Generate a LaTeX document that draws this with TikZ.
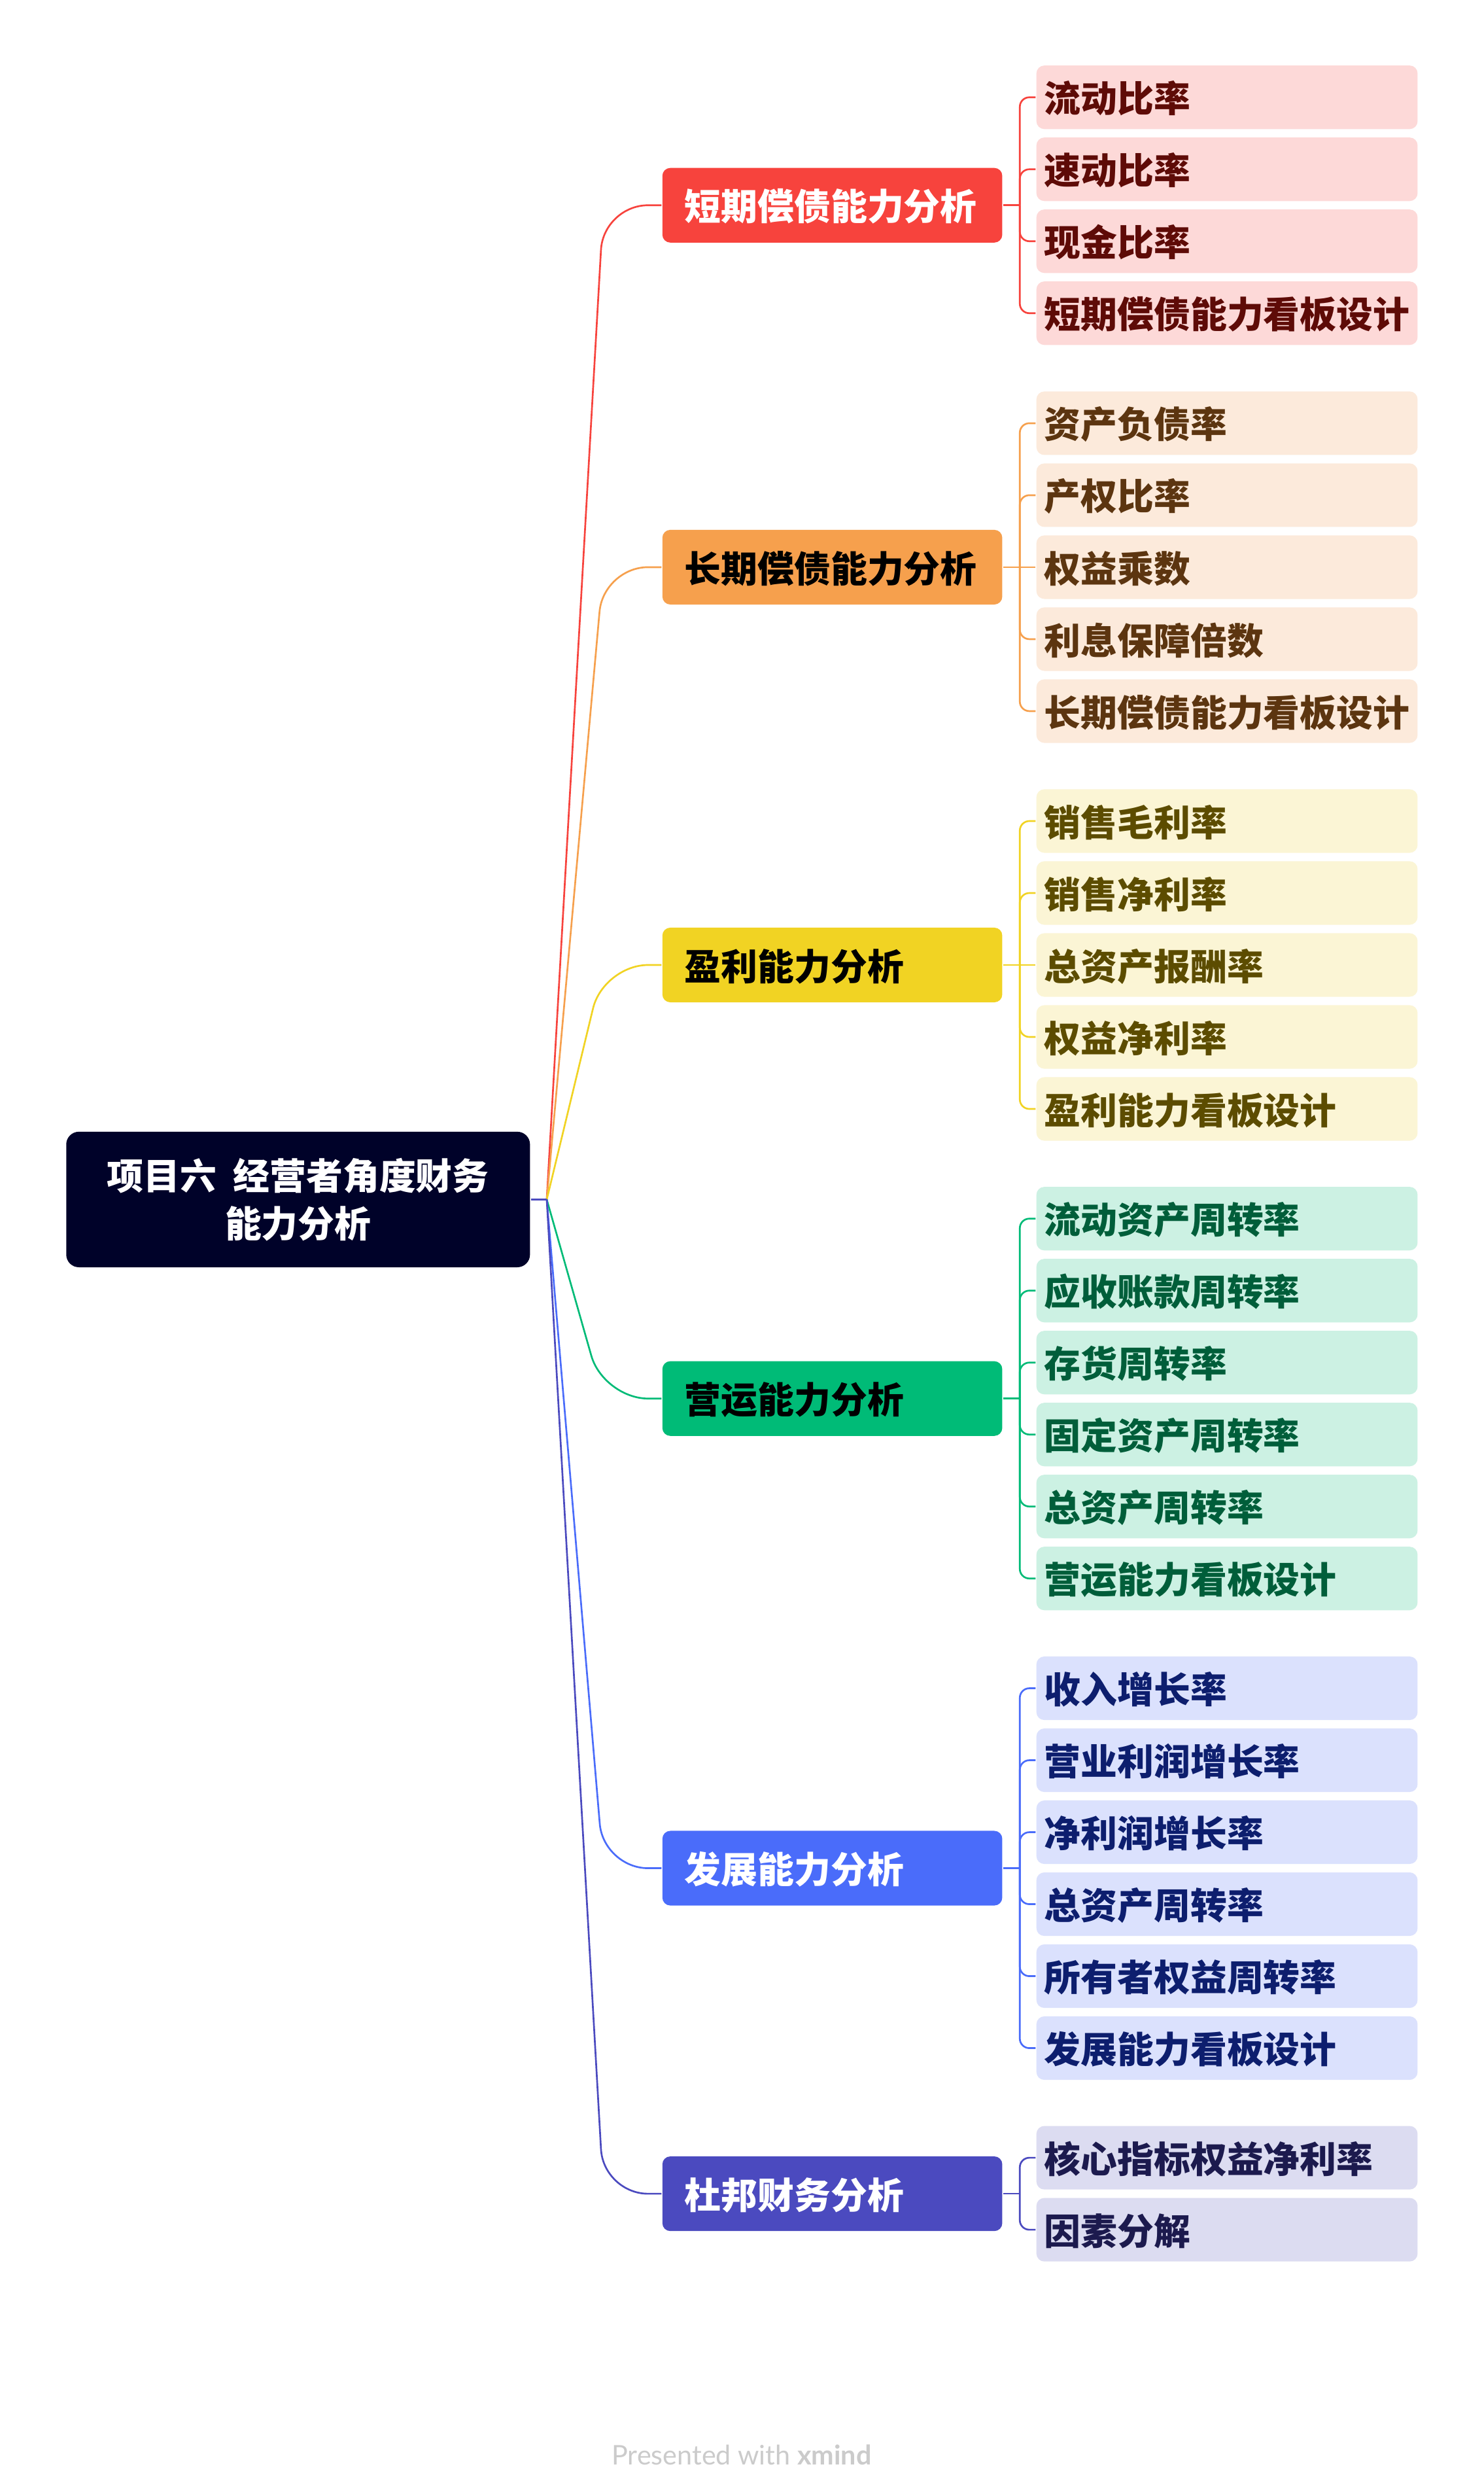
\documentclass[tikz,border=0pt]{standalone}
\usepackage{fontspec}
\setmainfont{Noto Sans CJK SC}[BoldFont={Noto Sans CJK SC Black}]
\newfontfamily\markfont{Lato}
\usetikzlibrary{positioning}

\definecolor{rootfill}{HTML}{000229}
\definecolor{redline}{HTML}{F7433D}
\definecolor{redfill}{HTML}{FDD9D8}
\definecolor{redtext}{HTML}{5E0B07}
\definecolor{orgline}{HTML}{F6A04D}
\definecolor{orgfill}{HTML}{FCEADB}
\definecolor{orgtext}{HTML}{5C3510}
\definecolor{ylwline}{HTML}{F1D323}
\definecolor{ylwfill}{HTML}{FBF5D5}
\definecolor{ylwtext}{HTML}{5C4C00}
\definecolor{grnline}{HTML}{00BB77}
\definecolor{grnfill}{HTML}{CCF1E3}
\definecolor{grntext}{HTML}{005E3A}
\definecolor{bluline}{HTML}{4A6CFA}
\definecolor{blufill}{HTML}{DBE1FD}
\definecolor{blutext}{HTML}{0D1E6E}
\definecolor{purline}{HTML}{4B4ABF}
\definecolor{purfill}{HTML}{DCDCF1}
\definecolor{purtext}{HTML}{1C1A4E}
\definecolor{marktext}{HTML}{CBCBCB}

\begin{document}
\begin{tikzpicture}[x=1pt, y=-1pt, line width=1.1pt,
    root/.style={fill=rootfill, text=white, rounded corners=8pt, minimum width=292pt,
        minimum height=85.3pt, align=center, font=\bfseries\fontsize{23}{30}\selectfont},
    branch/.style={fill=#1line, rounded corners=5pt, anchor=west, inner xsep=14pt, inner ysep=0pt,
        text width=186pt, minimum height=47pt, text height=21pt, text depth=2pt, align=left,
        font=\bfseries\fontsize{23}{28}\selectfont},
    leaf/.style={fill=#1fill, text=#1text, rounded corners=5pt, anchor=west, inner xsep=5pt, inner ysep=0pt,
        text width=230pt, minimum height=40pt, text height=21pt, text depth=2pt, align=left,
        font=\bfseries\fontsize{23}{28}\selectfont},
    link/.style={draw=#1line, rounded corners=28pt},
    twig/.style={draw=#1line, rounded corners=6pt}]
        \fill[white] (0,0) rectangle (934,1567.3);
        \useasboundingbox (0,0) rectangle (934,1567.3);

        % root
        \node[root] (root) at (187.7,755) {项目六\hspace{0.45em}经营者角度财务\\能力分析};
        \coordinate (hub) at ([xshift=10pt]root.east);

        % branches
        \node[branch=red, text=white] (b1) at (416.5,129.2) {短期偿债能力分析};
        \node[branch=org, text=black] (b2) at (416.5,357.0) {长期偿债能力分析};
        \node[branch=ylw, text=black] (b3) at (416.5,607.4) {盈利能力分析};
        \node[branch=grn, text=black] (b4) at (416.5,880.3) {营运能力分析};
        \node[branch=blu, text=white] (b5) at (416.5,1175.9) {发展能力分析};
        \node[branch=pur, text=white] (b6) at (416.5,1380.8) {杜邦财务分析};

        % short-term solvency
        \node[leaf=red] (c11) at (652,61.25) {流动比率};
        \node[leaf=red] (c12) at (652,106.55) {速动比率};
        \node[leaf=red] (c13) at (652,151.85) {现金比率};
        \node[leaf=red] (c14) at (652,197.15) {短期偿债能力看板设计};

        % long-term solvency
        \node[leaf=org] (c21) at (652,266.4) {资产负债率};
        \node[leaf=org] (c22) at (652,311.7) {产权比率};
        \node[leaf=org] (c23) at (652,357.0) {权益乘数};
        \node[leaf=org] (c24) at (652,402.3) {利息保障倍数};
        \node[leaf=org] (c25) at (652,447.6) {长期偿债能力看板设计};

        % profitability
        \node[leaf=ylw] (c31) at (652,516.8) {销售毛利率};
        \node[leaf=ylw] (c32) at (652,562.1) {销售净利率};
        \node[leaf=ylw] (c33) at (652,607.4) {总资产报酬率};
        \node[leaf=ylw] (c34) at (652,652.7) {权益净利率};
        \node[leaf=ylw] (c35) at (652,698.0) {盈利能力看板设计};

        % operating
        \node[leaf=grn] (c41) at (652,767.05) {流动资产周转率};
        \node[leaf=grn] (c42) at (652,812.35) {应收账款周转率};
        \node[leaf=grn] (c43) at (652,857.65) {存货周转率};
        \node[leaf=grn] (c44) at (652,902.95) {固定资产周转率};
        \node[leaf=grn] (c45) at (652,948.25) {总资产周转率};
        \node[leaf=grn] (c46) at (652,993.55) {营运能力看板设计};

        % growth
        \node[leaf=blu] (c51) at (652,1062.65) {收入增长率};
        \node[leaf=blu] (c52) at (652,1107.95) {营业利润增长率};
        \node[leaf=blu] (c53) at (652,1153.25) {净利润增长率};
        \node[leaf=blu] (c54) at (652,1198.55) {总资产周转率};
        \node[leaf=blu] (c55) at (652,1243.85) {所有者权益周转率};
        \node[leaf=blu] (c56) at (652,1289.15) {发展能力看板设计};

        % dupont
        \node[leaf=pur] (c61) at (652,1358.15) {核心指标权益净利率};
        \node[leaf=pur] (c62) at (652,1403.45) {因素分解};

        % root to branches
        \draw[link=red] (hub) -- ([xshift=-36.5pt]b1.west) -- (b1.west);
        \draw[link=org] (hub) -- ([xshift=-36.5pt]b2.west) -- (b2.west);
        \draw[link=ylw] (hub) -- ([xshift=-36.5pt]b3.west) -- (b3.west);
        \draw[link=grn] (hub) -- ([xshift=-36.5pt]b4.west) -- (b4.west);
        \draw[link=blu] (hub) -- ([xshift=-36.5pt]b5.west) -- (b5.west);
        \draw[link=pur] (hub) -- ([xshift=-36.5pt]b6.west) -- (b6.west);
        \draw[purline] (root.east) -- (hub);

        % branches to leaves
        \coordinate (s1) at ([xshift=10.5pt]b1.east);
        \draw[redline] (b1.east) -- (s1);
        \draw[twig=red] (s1) |- (c11.west);
        \draw[twig=red] (s1) |- (c12.west);
        \draw[twig=red] (s1) |- (c13.west);
        \draw[twig=red] (s1) |- (c14.west);

        \coordinate (s2) at ([xshift=10.5pt]b2.east);
        \draw[orgline] (b2.east) -- (s2);
        \draw[twig=org] (s2) |- (c21.west);
        \draw[twig=org] (s2) |- (c22.west);
        \draw[twig=org] (s2) -- (c23.west);
        \draw[twig=org] (s2) |- (c24.west);
        \draw[twig=org] (s2) |- (c25.west);

        \coordinate (s3) at ([xshift=10.5pt]b3.east);
        \draw[ylwline] (b3.east) -- (s3);
        \draw[twig=ylw] (s3) |- (c31.west);
        \draw[twig=ylw] (s3) |- (c32.west);
        \draw[twig=ylw] (s3) -- (c33.west);
        \draw[twig=ylw] (s3) |- (c34.west);
        \draw[twig=ylw] (s3) |- (c35.west);

        \coordinate (s4) at ([xshift=10.5pt]b4.east);
        \draw[grnline] (b4.east) -- (s4);
        \draw[twig=grn] (s4) |- (c41.west);
        \draw[twig=grn] (s4) |- (c42.west);
        \draw[twig=grn] (s4) |- (c43.west);
        \draw[twig=grn] (s4) |- (c44.west);
        \draw[twig=grn] (s4) |- (c45.west);
        \draw[twig=grn] (s4) |- (c46.west);

        \coordinate (s5) at ([xshift=10.5pt]b5.east);
        \draw[bluline] (b5.east) -- (s5);
        \draw[twig=blu] (s5) |- (c51.west);
        \draw[twig=blu] (s5) |- (c52.west);
        \draw[twig=blu] (s5) |- (c53.west);
        \draw[twig=blu] (s5) |- (c54.west);
        \draw[twig=blu] (s5) |- (c55.west);
        \draw[twig=blu] (s5) |- (c56.west);

        \coordinate (s6) at ([xshift=10.5pt]b6.east);
        \draw[purline] (b6.east) -- (s6);
        \draw[twig=pur] (s6) |- (c61.west);
        \draw[twig=pur] (s6) |- (c62.west);

        % footer
        \node[text=marktext, font=\markfont\fontsize{17}{19}\selectfont] (mark) at (467,1545) {Presented with \textbf{xmind}};
    \end{tikzpicture}
\end{document}
